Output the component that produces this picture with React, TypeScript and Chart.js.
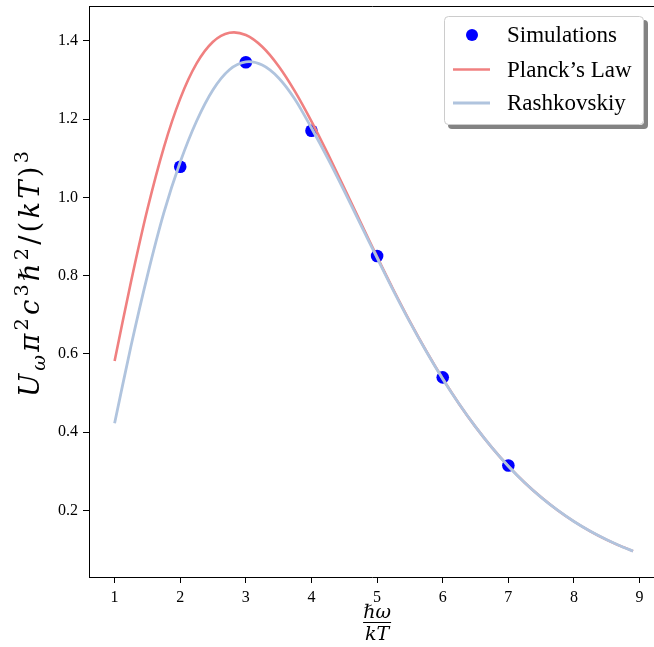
import React, { useEffect, useRef } from 'react';
import { Chart, registerables } from 'chart.js';

Chart.register(...registerables);

const SIM_X = [2, 3, 4, 5, 6, 7];
const SIM_Y = [1.078, 1.345, 1.17, 0.85, 0.54, 0.315];

const CURVE_X = [
  1, 1.25, 1.5, 1.75, 2, 2.25, 2.5, 2.75, 3, 3.25, 3.5, 3.75, 4, 4.25, 4.5, 4.75, 5,
  5.25, 5.5, 5.75, 6, 6.25, 6.5, 6.75, 7, 7.25, 7.5, 7.75, 8, 8.25, 8.5, 8.75, 8.9,
];
const PLANCK_Y = [
  0.582, 0.7843, 0.9694, 1.1272, 1.2521, 1.342, 1.3973, 1.4203, 1.4147, 1.3847, 1.335,
  1.2701, 1.1941, 1.1109, 1.0237, 0.9353, 0.848, 0.7633, 0.6827, 0.607, 0.5367, 0.4722,
  0.4135, 0.3605, 0.3131, 0.2708, 0.2335, 0.2006, 0.1718, 0.1467, 0.125, 0.1062, 0.0962,
];
const RASH_Y = [
  0.423, 0.62, 0.8, 0.96, 1.09, 1.195, 1.275, 1.326, 1.346, 1.338, 1.305, 1.25, 1.177,
  1.099, 1.016, 0.93, 0.845, 0.761, 0.681, 0.606, 0.536, 0.472, 0.4135, 0.3605, 0.313,
  0.2708, 0.2335, 0.2006, 0.1718, 0.1467, 0.125, 0.1062, 0.0962,
];

const X_TICKS = [1, 2, 3, 4, 5, 6, 7, 8, 9];
const Y_TICKS = [0.2, 0.4, 0.6, 0.8, 1.0, 1.2, 1.4];
const SERIES_LABELS = ['Simulations', 'Planck\u2019s Law', 'Rashkovskiy'];

const FONT = '"Liberation Serif", "DejaVu Serif", serif';
const MATH_FONT = '"DejaVu Serif", "Liberation Serif", serif';

type Part = { t: string; it: boolean; sub?: boolean; sup?: boolean };

function drawMath(ctx: CanvasRenderingContext2D, parts: Part[], cx: number, baseY: number, base: number, target: number) {
  const small = base * 0.7;
  const fontFor = (p: Part) => {
    const size = p.sub || p.sup ? small : base;
    return `${p.it ? 'italic ' : ''}${size}px ${MATH_FONT}`;
  };
  let total = 0;
  const widths: number[] = [];
  for (const p of parts) {
    ctx.font = fontFor(p);
    const w = ctx.measureText(p.t).width;
    widths.push(w);
    total += w;
  }
  const gap = Math.max(0, (target - total) / (parts.length - 1));
  const full = total + gap * (parts.length - 1);
  let x = cx - full / 2;
  ctx.textBaseline = 'alphabetic';
  ctx.textAlign = 'left';
  parts.forEach((p, i) => {
    ctx.font = fontFor(p);
    let dy = 0;
    if (p.sub) dy = base * 0.2;
    if (p.sup) dy = -base * 0.4;
    ctx.fillText(p.t, x, baseY + dy);
    x += widths[i] + gap;
  });
}

const decorPlugin = {
  id: 'decor',
  afterDraw(chart: any) {
    const ctx: CanvasRenderingContext2D = chart.ctx;
    const a = chart.chartArea;
    ctx.save();
    ctx.fillStyle = '#000';
    ctx.strokeStyle = '#000';
    ctx.lineWidth = 1;
    ctx.beginPath();
    ctx.moveTo(a.left, Math.round(a.top) + 0.5);
    ctx.lineTo(a.right, Math.round(a.top) + 0.5);
    ctx.stroke();

    const yParts: Part[] = [
      { t: 'U', it: true },
      { t: '\u03c9', it: true, sub: true },
      { t: '\u03c0', it: true },
      { t: '2', it: false, sup: true },
      { t: 'c', it: true },
      { t: '3', it: false, sup: true },
      { t: '\u210f', it: true },
      { t: '2', it: false, sup: true },
      { t: '/', it: false },
      { t: '(', it: false },
      { t: 'k', it: true },
      { t: 'T', it: true },
      { t: ')', it: false },
      { t: '3', it: false, sup: true },
    ];
    ctx.save();
    ctx.translate(39, 274);
    ctx.rotate(-Math.PI / 2);
    drawMath(ctx, yParts, 0, 0, 27.5, 246);
    ctx.restore();

    const cx = chart.scales.x.getPixelForValue(5);
    ctx.font = `italic 19px ${MATH_FONT}`;
    ctx.textAlign = 'center';
    ctx.textBaseline = 'alphabetic';
    ctx.fillText('\u210f\u03c9', cx, 618);
    ctx.fillText('kT', cx, 640);
    ctx.lineWidth = 1;
    ctx.beginPath();
    ctx.moveTo(cx - 14, 622.5);
    ctx.lineTo(cx + 14, 622.5);
    ctx.stroke();

    const lx = 444, ly = 16, lw = 200, lh = 109, r = 4;
    const rr = (x: number, y: number, w: number, h: number) => {
      ctx.beginPath();
      ctx.moveTo(x + r, y);
      ctx.lineTo(x + w - r, y);
      ctx.quadraticCurveTo(x + w, y, x + w, y + r);
      ctx.lineTo(x + w, y + h - r);
      ctx.quadraticCurveTo(x + w, y + h, x + w - r, y + h);
      ctx.lineTo(x + r, y + h);
      ctx.quadraticCurveTo(x, y + h, x, y + h - r);
      ctx.lineTo(x, y + r);
      ctx.quadraticCurveTo(x, y, x + r, y);
      ctx.closePath();
    };
    ctx.fillStyle = 'rgba(90,90,90,0.75)';
    rr(lx + 4, ly + 4, lw, lh);
    ctx.fill();
    ctx.fillStyle = '#ffffff';
    rr(lx, ly, lw, lh);
    ctx.fill();
    ctx.strokeStyle = '#cccccc';
    ctx.lineWidth = 1;
    rr(lx + 0.5, ly + 0.5, lw - 1, lh - 1);
    ctx.stroke();

    const ds = chart.data.datasets;
    const rows = [35, 69.5, 103];
    ctx.font = `23px ${FONT}`;
    ctx.textAlign = 'left';
    ctx.textBaseline = 'middle';
    ds.forEach((d: any, i: number) => {
      const y = rows[i];
      if (i === 0) {
        ctx.fillStyle = d.backgroundColor;
        ctx.beginPath();
        ctx.arc(472, y, 6, 0, Math.PI * 2);
        ctx.fill();
      } else {
        ctx.strokeStyle = d.borderColor;
        ctx.lineWidth = d.borderWidth;
        ctx.beginPath();
        ctx.moveTo(453, y);
        ctx.lineTo(490, y);
        ctx.stroke();
      }
      ctx.fillStyle = '#000';
      ctx.fillText(d.label, 507, y + 1);
    });
    ctx.restore();
  },
};

export default function App() {
  const ref = useRef<HTMLCanvasElement | null>(null);
  useEffect(() => {
    if (!ref.current) return;
    const toPts = (xs: number[], ys: number[]) => xs.map((x, i) => ({ x, y: ys[i] }));
    const chart = new Chart(ref.current, {
      type: 'scatter',
      data: {
        datasets: [
          {
            label: SERIES_LABELS[0],
            data: toPts(SIM_X, SIM_Y),
            backgroundColor: '#0000ff',
            borderWidth: 0,
            pointRadius: 6.3,
            order: 2,
          },
          {
            label: SERIES_LABELS[1],
            data: toPts(CURVE_X, PLANCK_Y),
            showLine: true,
            borderColor: '#f08080',
            borderWidth: 2.6,
            pointRadius: 0,
            tension: 0.3,
            order: 1,
          },
          {
            label: SERIES_LABELS[2],
            data: toPts(CURVE_X, RASH_Y),
            showLine: true,
            borderColor: '#b0c4de',
            borderWidth: 2.8,
            pointRadius: 0,
            tension: 0.3,
            order: 0,
          },
        ] as any,
      },
      options: {
        responsive: false,
        animation: false,
        layout: { padding: { left: 0, right: 0, top: 5, bottom: 0 } },
        plugins: { legend: { display: false }, tooltip: { enabled: false } },
        scales: {
          x: {
            type: 'linear',
            min: 0.61,
            max: 9.245,
            afterBuildTicks: (s: any) => {
              s.ticks = X_TICKS.map((v) => ({ value: v }));
            },
            afterFit: (s: any) => {
              s.height = 70;
              s.paddingLeft = 0;
              s.paddingRight = 0;
            },
            ticks: {
              autoSkip: false,
              maxRotation: 0,
              color: '#000',
              padding: 5,
              font: { family: FONT, size: 16 },
              callback: (v: any) => String(v),
            },
            grid: {
              display: true,
              drawOnChartArea: false,
              drawTicks: true,
              tickLength: 6,
              tickColor: '#000',
              tickWidth: 1,
            },
            border: { display: true, color: '#000', width: 1 },
          },
          y: {
            type: 'linear',
            min: 0.03,
            max: 1.488,
            afterBuildTicks: (s: any) => {
              s.ticks = Y_TICKS.map((v) => ({ value: v }));
            },
            afterFit: (s: any) => {
              s.width = 89;
              s.paddingTop = 0;
              s.paddingBottom = 0;
            },
            ticks: {
              autoSkip: false,
              color: '#000',
              padding: 5,
              font: { family: FONT, size: 16 },
              callback: (v: any) => Number(v).toFixed(1),
            },
            grid: {
              display: true,
              drawOnChartArea: false,
              drawTicks: true,
              tickLength: 6,
              tickColor: '#000',
              tickWidth: 1,
            },
            border: { display: true, color: '#000', width: 1 },
          },
        },
      } as any,
      plugins: [decorPlugin],
    });
    return () => chart.destroy();
  }, []);
  return (
    <div style={{ position: 'absolute', left: 0, top: 0, width: 654, height: 647, background: '#fff', overflow: 'hidden' }}>
      <canvas ref={ref} width={662} height={647} style={{ display: 'block', width: 662, height: 647 }} />
    </div>
  );
}
